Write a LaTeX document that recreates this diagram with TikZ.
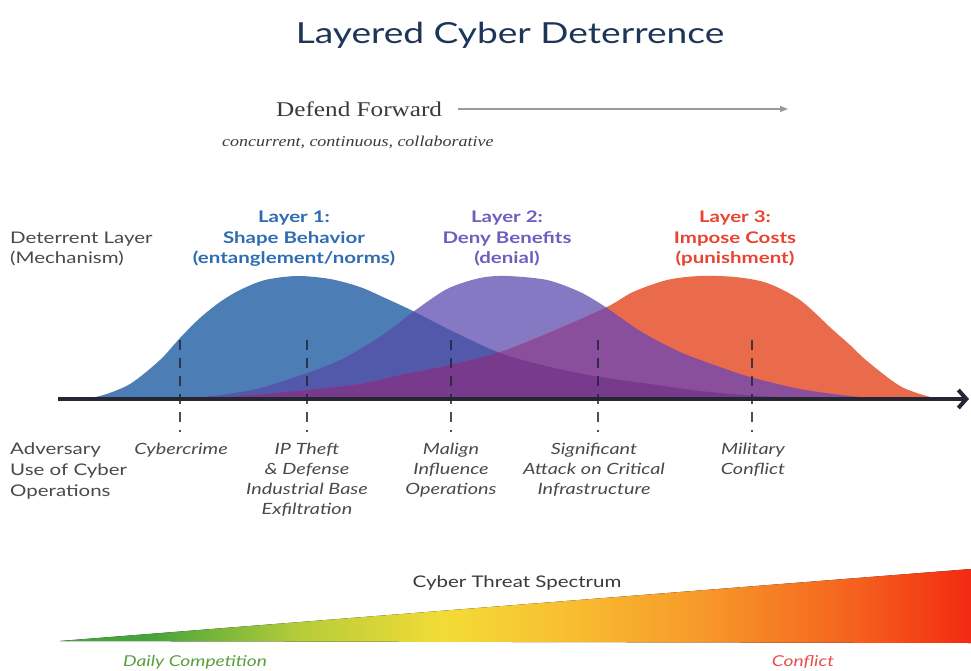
\documentclass[tikz,border=0pt]{standalone}
\usepackage{fontspec}
\setmainfont{Liberation Serif}[FakeStretch=1.2]
\setsansfont{Lato}[FakeStretch=1.28]
\usetikzlibrary{arrows.meta}
\definecolor{titlec}{HTML}{1D3658}
\definecolor{dfc}{HTML}{3A3A3A}
\definecolor{labc}{HTML}{4A4A4A}
\definecolor{l1c}{HTML}{2F6DB3}
\definecolor{l2c}{HTML}{6F5EC0}
\definecolor{l3c}{HTML}{E8442F}
\definecolor{cblue}{HTML}{4D7DB5}
\definecolor{cpurp}{HTML}{8679C3}
\definecolor{cred}{HTML}{E96B4C}
\definecolor{cbp}{HTML}{5259AB}
\definecolor{cpr}{HTML}{8A4F9C}
\definecolor{call}{HTML}{783A8C}
\definecolor{tickc}{HTML}{1E2433}
\definecolor{axisc}{HTML}{262633}
\definecolor{arrc}{HTML}{9A9A9A}
\definecolor{tg}{HTML}{46A43A}
\definecolor{tyg}{HTML}{B5CC3A}
\definecolor{ty}{HTML}{F3DC36}
\definecolor{tyo}{HTML}{F8C232}
\definecolor{to}{HTML}{F79A2A}
\definecolor{tor}{HTML}{F5621E}
\definecolor{tr}{HTML}{F22A12}
\definecolor{dcg}{HTML}{5AA040}
\definecolor{cfr}{HTML}{E8504A}
\pgfdeclarehorizontalshading{threat}{100bp}{color(0bp)=(tg); color(25bp)=(tg); color(30bp)=(tg); color(38bp)=(tyg); color(46bp)=(ty); color(52bp)=(tyo); color(60bp)=(to); color(68.5bp)=(tor); color(75bp)=(tr); color(100bp)=(tr)}
\def\bluecurve{plot[smooth] coordinates {(75,399) (100,396) (130,384) (160,360) (180,338) (200,318) (220,302) (240,290) (265,280) (297,276) (330,279) (360,287) (385,298) (413,311) (450,330) (500,353) (550,367) (600,377) (650,384) (700,391) (750,395.5) (800,398) (840,399)} -- cycle}
\def\purpcurve{plot[smooth] coordinates {(175,399) (220,395) (260,388) (307,373) (340,360) (370,343) (395,326) (413,312) (447,289) (480,278) (507,276) (547,280) (580,292) (607,308) (640,331) (680,352) (720,367) (750,377) (800,389) (850,396) (890,399)} -- cycle}
\def\redcurve{plot[smooth] coordinates {(185,399) (240,396) (307,390) (360,384) (400,375) (450,365) (500,352) (553,331) (607,307) (633,292) (667,280) (700,276) (735,277) (767,283) (800,300) (833,330) (850,345) (867,361) (900,386) (930,397) (945,399)} -- cycle}
\begin{document}
\begin{tikzpicture}[x=1pt,y=-1pt,
  layerlab/.style={font=\sffamily\bfseries\fontsize{16}{20.5}\selectfont, align=center, anchor=north, inner sep=0pt},
  lab/.style={font=\sffamily\fontsize{16}{20}\selectfont, text=labc, align=left, anchor=north west, inner sep=0pt},
  botlab/.style={font=\sffamily\itshape\fontsize{15.5}{20}\selectfont, text=labc, align=center, anchor=north, inner sep=0pt},
  tickdash/.style={tickc, line width=2.4pt, opacity=0.8, dash pattern=on 10pt off 8pt},
  axisline/.style={axisc, line width=4pt, -{Straight Barb[length=8pt,width=18pt]}},
  dfarrow/.style={arrc, line width=1.3pt, -{Triangle[length=8pt,width=6pt]}}]
\useasboundingbox (0,0) rectangle (971,671);
\fill[white] (0,0) rectangle (971,671);
% title
\node[font=\sffamily\fontsize{29}{34}\selectfont, text=titlec, anchor=base] (title) at (510,44) {Layered Cyber Deterrence};
% defend forward
\node[font=\rmfamily\fontsize{21}{25}\selectfont, text=dfc, anchor=base west, inner sep=0pt] (df) at (276,117) {Defend Forward};
\coordinate (dfS) at (458,109);
\coordinate (dfE) at (788,109);
\draw[dfarrow] (dfS) -- (dfE);
\node[font=\rmfamily\itshape\fontsize{15}{18}\selectfont, text=dfc, anchor=base west, inner sep=0pt] (ccc) at (222,147) {concurrent, continuous, collaborative};
% layer labels
\node[lab] (dl) at (10,232) {Deterrent Layer\\(Mechanism)};
\node[layerlab, text=l1c] (l1) at (294,211) {Layer 1:\\Shape Behavior\\(entanglement/norms)};
\node[layerlab, text=l2c] (l2) at (507,211) {Layer 2:\\Deny Benefits\\(denial)};
\node[layerlab, text=l3c] (l3) at (735,211) {Layer 3:\\Impose Costs\\(punishment)};
% curves
\fill[cblue] \bluecurve;
\fill[cpurp] \purpcurve;
\fill[cred] \redcurve;
\begin{scope}\clip \bluecurve; \fill[cbp] \purpcurve; \end{scope}
\begin{scope}\clip \purpcurve; \fill[cpr] \redcurve; \end{scope}
\begin{scope}\clip \bluecurve; \fill[call] \redcurve; \end{scope}
% ticks
\foreach \n/\x in {a/180,b/307,c/451,d/598,e/752}{
  \coordinate (t\n top) at (\x,340);
  \coordinate (t\n bot) at (\x,432);
  \draw[tickdash] (t\n top) -- (t\n bot);
}
% axis
\coordinate (axS) at (58,399);
\coordinate (axE) at (969,399);
\draw[axisline] (axS) -- (axE);
% bottom labels
\node[lab, font=\sffamily\fontsize{16}{21}\selectfont] (adv) at (10,443) {Adversary\\Use of Cyber\\Operations};
\node[botlab] (cyc) at (181,443) {Cybercrime};
\node[botlab] (ipt) at (307,443) {IP Theft\\\& Defense\\Industrial Base\\Exfiltration};
\node[botlab] (mal) at (451,443) {Malign\\Influence\\Operations};
\node[botlab] (sig) at (594,443) {Significant\\Attack on Critical\\Infrastructure};
\node[botlab] (mil) at (753,443) {Military\\Conflict};
% spectrum wedge
\coordinate (wA) at (60,641);
\coordinate (wB) at (971,569);
\coordinate (wC) at (971,643);
\fill[shading=threat] (wA) -- (wB) -- (wC) -- cycle;
\node[font=\sffamily\fontsize{16}{19}\selectfont, text=dfc] (cts) at (517,583) {Cyber Threat Spectrum};
\node[font=\sffamily\itshape\fontsize{15}{18}\selectfont, text=dcg] (dc) at (195,662) {Daily Competition};
\node[font=\sffamily\itshape\fontsize{15}{18}\selectfont, text=cfr] (cf) at (803,662) {Conflict};
\end{tikzpicture}
\end{document}
